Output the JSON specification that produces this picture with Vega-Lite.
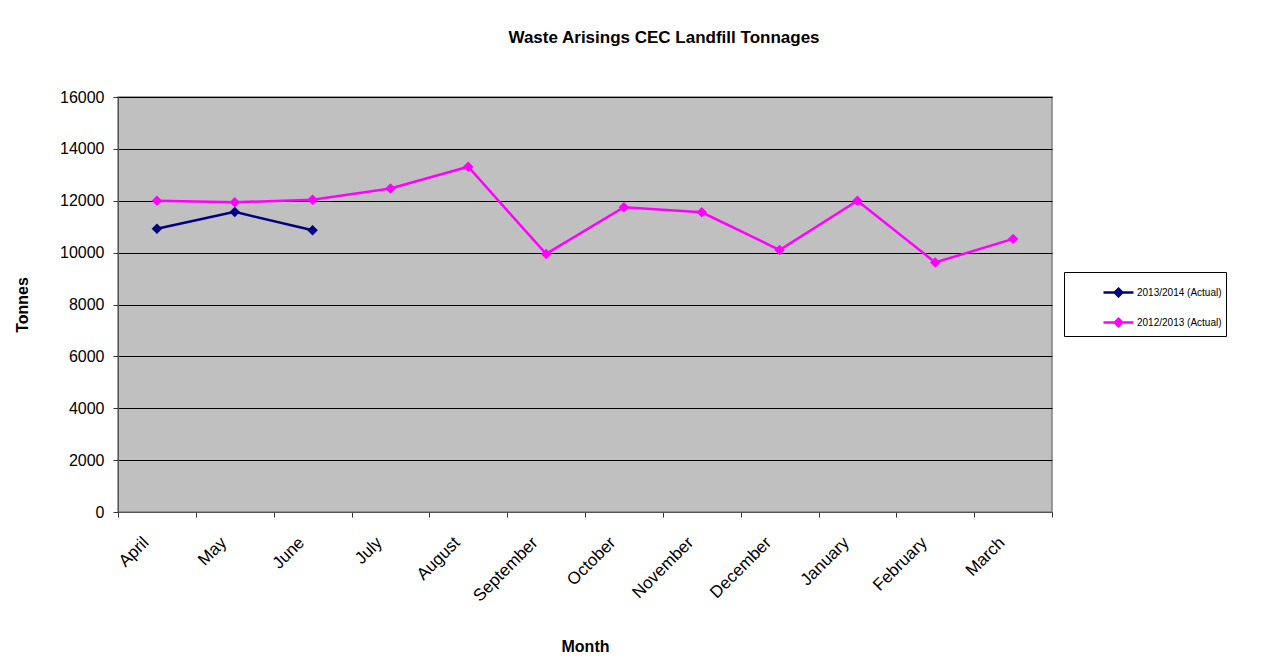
{
  "$schema": "https://vega.github.io/schema/vega-lite/v6.json",
  "width": 934,
  "height": 415,
  "autosize": {"type": "none"},
  "padding": {"left": 118, "top": 97, "right": 213, "bottom": 152},
  "background": "white",
  "title": {
    "text": "Waste Arisings CEC Landfill Tonnages",
    "font": "Liberation Sans",
    "fontSize": 17,
    "fontWeight": "bold",
    "color": "black",
    "anchor": "middle",
    "dx": 79,
    "baseline": "bottom",
    "offset": 25
  },
  "data": {
    "values": [
      {"month": "April", "series": "2013/2014 (Actual)", "tonnes": 10920},
      {"month": "May", "series": "2013/2014 (Actual)", "tonnes": 11570},
      {"month": "June", "series": "2013/2014 (Actual)", "tonnes": 10860},
      {"month": "April", "series": "2012/2013 (Actual)", "tonnes": 12000},
      {"month": "May", "series": "2012/2013 (Actual)", "tonnes": 11940},
      {"month": "June", "series": "2012/2013 (Actual)", "tonnes": 12040},
      {"month": "July", "series": "2012/2013 (Actual)", "tonnes": 12470},
      {"month": "August", "series": "2012/2013 (Actual)", "tonnes": 13310},
      {"month": "September", "series": "2012/2013 (Actual)", "tonnes": 9950},
      {"month": "October", "series": "2012/2013 (Actual)", "tonnes": 11750},
      {"month": "November", "series": "2012/2013 (Actual)", "tonnes": 11555},
      {"month": "December", "series": "2012/2013 (Actual)", "tonnes": 10100},
      {"month": "January", "series": "2012/2013 (Actual)", "tonnes": 12000},
      {"month": "February", "series": "2012/2013 (Actual)", "tonnes": 9620},
      {"month": "March", "series": "2012/2013 (Actual)", "tonnes": 10530}
    ]
  },
  "encoding": {
    "x": {
      "field": "month",
      "type": "nominal",
      "sort": ["April", "May", "June", "July", "August", "September", "October", "November", "December", "January", "February", "March"],
      "scale": {"type": "band", "paddingInner": 0, "paddingOuter": 0},
      "axis": {
        "title": "Month",
        "titleFont": "Liberation Sans",
        "titleFontSize": 16,
        "titleFontWeight": "bold",
        "titleColor": "black",
        "titlePadding": 34,
        "labelAngle": -45,
        "labelAlign": "right",
        "labelBaseline": "top",
        "labelFont": "Liberation Sans",
        "labelFontSize": 17,
        "labelColor": "black",
        "labelPadding": 17,
        "labelOffset": -17,
        "tickBand": "extent",
        "tickSize": 5,
        "tickColor": "#333333",
        "domainColor": "#555555",
        "grid": false
      }
    },
    "y": {
      "field": "tonnes",
      "type": "quantitative",
      "scale": {"domain": [0, 16000], "nice": false},
      "axis": {
        "title": "Tonnes",
        "titleFont": "Liberation Sans",
        "titleFontSize": 16,
        "titleFontWeight": "bold",
        "titleColor": "black",
        "titlePadding": 29,
        "values": [0, 2000, 4000, 6000, 8000, 10000, 12000, 14000, 16000],
        "format": "d",
        "labelFont": "Liberation Sans",
        "labelFontSize": 16,
        "labelColor": "black",
        "labelPadding": 9,
        "tickSize": 5,
        "tickColor": "#333333",
        "domainColor": "#555555",
        "grid": true,
        "gridColor": "black",
        "gridWidth": 1
      }
    },
    "color": {
      "field": "series",
      "type": "nominal",
      "sort": ["2013/2014 (Actual)", "2012/2013 (Actual)"],
      "scale": {"domain": ["2013/2014 (Actual)", "2012/2013 (Actual)"], "range": ["#000080", "#FF00FF"]},
      "legend": {
        "orient": "none",
        "legendX": 946,
        "legendY": 175,
        "title": null,
        "strokeColor": "black",
        "fillColor": "white",
        "padding": 4,
        "rowPadding": 4,
        "symbolOffset": 34,
        "symbolType": "M-1,0H1M0,-0.25L0.25,0L0,0.25L-0.25,0Z",
        "symbolSize": 900,
        "symbolStrokeWidth": 2.5,
        "labelFont": "Liberation Sans Narrow, Liberation Sans",
        "labelFontSize": 10,
        "labelColor": "black",
        "labelOffset": 2,
        "encode": {
          "symbols": {"update": {"fill": {"scale": "color", "field": "value"}}}
        }
      }
    }
  },
  "layer": [
    {"mark": {"type": "line", "strokeWidth": 2.5}},
    {"mark": {"type": "point", "shape": "diamond", "filled": true, "size": 110, "opacity": 1}}
  ],
  "config": {
    "view": {"fill": "#C0C0C0", "stroke": "#808080", "strokeWidth": 1.5}
  }
}
